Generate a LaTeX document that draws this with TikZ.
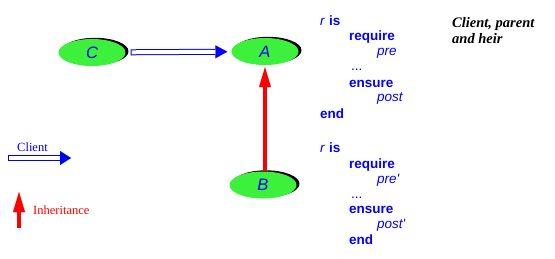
\documentclass[tikz,border=0pt]{standalone}
\usepackage{fontspec}
\setmainfont{Liberation Serif}
\newfontfamily\arialf{Liberation Sans}
\usetikzlibrary{arrows.meta,shapes.geometric,shadows}
\begin{document}
\begin{tikzpicture}[x=1pt,y=-1pt,
  cls/.style={ellipse, fill={rgb,255:red,60;green,240;blue,60}, minimum width=67pt, minimum height=27pt,
    inner sep=0pt, text=blue, font=\arialf\itshape\fontsize{16.5}{18}\selectfont,
    drop shadow={shadow xshift=3pt, shadow yshift=1.2pt, fill=black, opacity=1}},
  code/.style={anchor=base west, inner sep=0pt, text=blue, font=\arialf\itshape\fontsize{13.5}{16}\selectfont},
  kw/.style={anchor=base west, inner sep=0pt, text=blue, font=\arialf\bfseries\fontsize{13.5}{16}\selectfont},
  note/.style={anchor=base west, inner sep=0pt, font=\bfseries\itshape\fontsize{14.5}{17}\selectfont},
  legend/.style={anchor=base west, inner sep=0pt, font=\fontsize{12.5}{15}\selectfont},
  clientline/.style={blue, line width=6pt},
  clientinner/.style={white, line width=4pt},
  inherit/.style={red, line width=3.3pt, -{Triangle[length=20pt,width=12pt,line width=0.01pt]}}
]
\useasboundingbox (0,0) rectangle (555,258);

% classes
\node[cls] (C) at (92,52.5) {C};
\node[cls] (A) at (265,51.5) {A};
\node[cls] (B) at (263,185) {B};

% client arrow C -> A
\draw[clientline, shorten <=5pt, shorten >=4pt, -{Triangle[length=12pt,width=13pt,line width=0.01pt]}] (C) -- (A);
\draw[clientinner, shorten <=6pt, shorten >=16pt] (C) -- (A);

% inheritance arrow B -> A
\draw[inherit, shorten >=2pt] (B.north -| 265,0) -- (A.south -| 265,0);

% legend
\coordinate (cl1) at (8,158);
\coordinate (cl2) at (71,158);
\draw[clientline, -{Triangle[length=11pt,width=14pt,line width=0.01pt]}] (cl1) -- (cl2);
\draw[clientinner, shorten <=1pt, shorten >=11pt] (cl1) -- (cl2);
\node[legend, text=blue] (lc) at (17,151.5) {Client};

\coordinate (in1) at (19,228);
\coordinate (in2) at (19,192);
\draw[inherit] (in1) -- (in2);
\node[legend, text=red] (li) at (33,214) {Inheritance};

% first routine
\node[code] (r1) at (320,25) {r};
\node[kw] (is1) at (329,25) {is};
\node[kw] (req1) at (349,40) {require};
\node[code] (pre1) at (377,55) {pre};
\node[code, font=\arialf\fontsize{13.5}{16}\selectfont] (dots1) at (351,70) {...};
\node[kw] (ens1) at (349,87) {ensure};
\node[code] (post1) at (377,101.5) {post};
\node[kw] (end1) at (320,118) {end};

% second routine
\node[code] (r2) at (320,152) {r};
\node[kw] (is2) at (329,152) {is};
\node[kw] (req2) at (349,168) {require};
\node[code] (pre2) at (377,183) {pre'};
\node[code, font=\arialf\fontsize{13.5}{16}\selectfont] (dots2) at (351,198) {...};
\node[kw] (ens2) at (349,213) {ensure};
\node[code] (post2) at (377,228) {post'};
\node[kw] (end2) at (349,244) {end};

% title
\node[note] (t1) at (452,27) {Client, parent};
\node[note] (t2) at (452,43.5) {and heir};
\end{tikzpicture}
\end{document}
